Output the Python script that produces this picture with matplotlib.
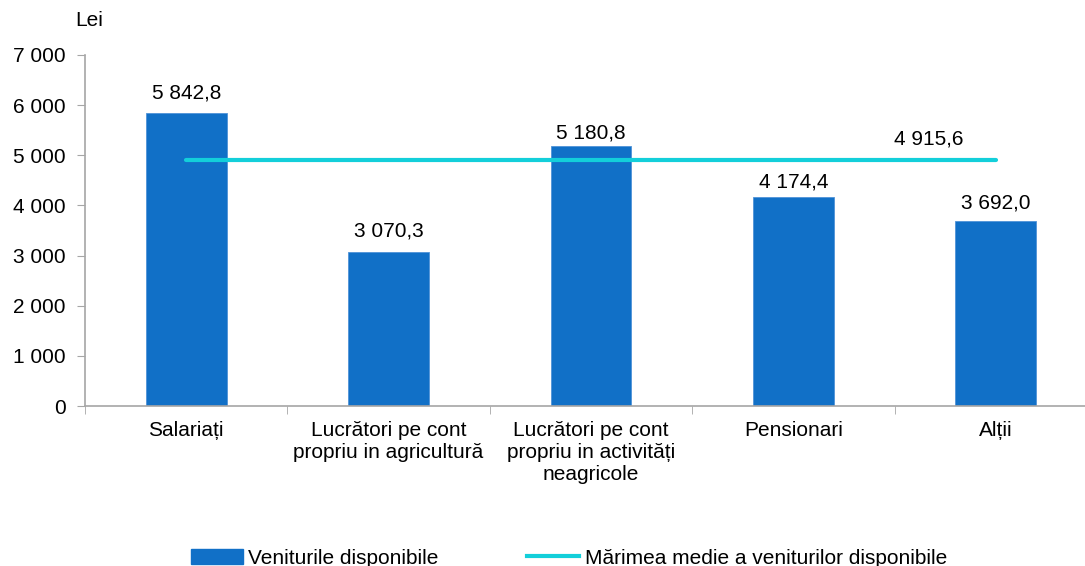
import matplotlib
matplotlib.use("Agg")
import matplotlib.pyplot as plt
from matplotlib.patches import Patch
from matplotlib.lines import Line2D
import numpy as np

categories = ["Salariați", "Lucrători pe cont\npropriu in agricultură",
              "Lucrători pe cont\npropriu in activități\nneagricole", "Pensionari", "Alții"]
values = [5842.8, 3070.3, 5180.8, 4174.4, 3692.0]
average = 4915.6
yticks = [0, 1000, 2000, 3000, 4000, 5000, 6000, 7000]

# label offsets above bar tops (points), as positioned in the original
label_offsets = [10.8, 11.5, 5.8, 6.5, 8.6]

BAR = "#1170C7"
LINE = "#13CFDA"
GRAY = "#A6A6A6"
FS = 15

def fmt(v, dec=1):
    s = f"{v:,.{dec}f}"
    return s.replace(",", " ").replace(".", ",")

plt.rcParams['font.family'] = ['Liberation Sans', 'DejaVu Sans']
fig = plt.figure(figsize=(10.85, 5.66), dpi=100)
ax = fig.add_axes([85/1085, 160/566, 1012/1085, 351/566])

x = np.arange(len(categories))
ax.bar(x, values, width=0.4, color=BAR, edgecolor="#4F93D8", linewidth=0.6, zorder=2)
ax.plot([x[0], x[-1]], [average, average], color=LINE, linewidth=3, solid_capstyle='round', zorder=3)

for xi, v, off in zip(x, values, label_offsets):
    ax.annotate(fmt(v), (xi, v), xytext=(0, off), textcoords="offset points",
                ha="center", va="baseline", fontsize=FS)
ax.annotate(fmt(average), (3.67, average), xytext=(0, 10.8), textcoords="offset points",
            ha="center", va="baseline", fontsize=FS)

ax.set_xlim(-0.5, len(categories) - 0.5)
ax.set_ylim(0, 7000)
ax.set_yticks(yticks)
ax.set_yticklabels([fmt(t, 0) if t else "0" for t in yticks], fontsize=FS)
ax.set_xticks(x)
ax.set_xticklabels(categories, fontsize=FS, linespacing=1.2, va="top")
ax.set_xticks(np.arange(-0.5, len(categories) + 0.5, 1.0), minor=True)
ax.tick_params(axis='x', which='major', length=0, pad=11)
ax.tick_params(axis='x', which='minor', length=6, color=GRAY, direction='out')
ax.tick_params(axis='y', length=6, color=GRAY, pad=8)

for s in ["top", "right"]:
    ax.spines[s].set_visible(False)
ax.spines["left"].set_color(GRAY)
ax.spines["bottom"].set_color(GRAY)
ax.spines["left"].set_linewidth(1.2)
ax.spines["bottom"].set_linewidth(1.2)

fig.text(75/1085, 1 - 21/566, "Lei", fontsize=FS, ha="left", va="center")

handles = [Patch(facecolor=BAR, edgecolor=BAR),
           Line2D([0], [0], color=LINE, linewidth=3)]
fig.legend(handles, ["Veniturile disponibile", "Mărimea medie a veniturilor disponibile"],
           loc="center", bbox_to_anchor=(569/1085, 8/566), ncol=2, frameon=False,
           fontsize=FS, handlelength=2.5, handleheight=0.7, handletextpad=0.25, columnspacing=4.25)

fig.savefig("out.png", dpi=100)
